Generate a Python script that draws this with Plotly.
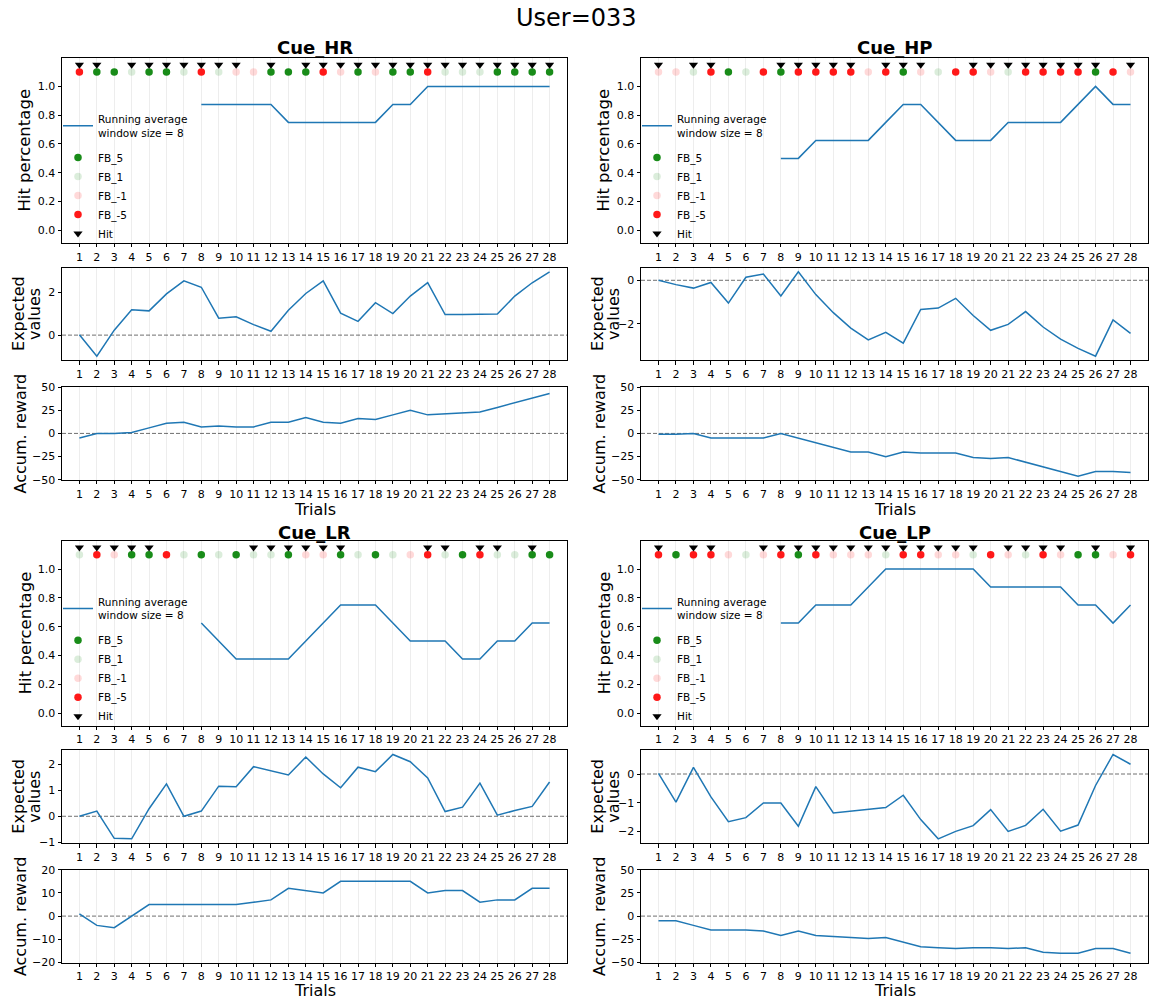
import plotly.graph_objects as go

# ---------------- data ----------------
trials = list(range(1, 29))
cues = ["Cue_HR", "Cue_HP", "Cue_LR", "Cue_LP"]
fb_levels = [5, 1, -1, -5]
fb_names = ["FB_5", "FB_1", "FB_-1", "FB_-5"]

fb_HR = [-5, 5, 5, 1, 5, 5, 1, -5, 1, -1, -1, 5, 5, 5, -5, -1, 5, -1, 5, 5, -5, 1, 1, 1, 5, 5, 5, 5]
hit_HR = [1, 1, 0, 1, 1, 1, 1, 1, 1, 1, 0, 1, 0, 1, 1, 1, 1, 1, 1, 1, 1, 1, 1, 1, 1, 1, 1, 1]
runavg_HR = [None] * 7 + [0.875, 0.875, 0.875, 0.875, 0.875, 0.75, 0.75, 0.75, 0.75, 0.75, 0.75,
                          0.875, 0.875, 1, 1, 1, 1, 1, 1, 1, 1]
ev_HR = [0.02, -0.98, 0.23, 1.18, 1.13, 1.92, 2.53, 2.23, 0.79, 0.85, 0.49, 0.18, 1.16, 1.94,
         2.53, 1.02, 0.64, 1.51, 1.0, 1.82, 2.44, 0.96, 0.96, 0.97, 0.98, 1.82, 2.44, 2.95]
acc_HR = [-5, 0, 0, 1, 6, 11, 12, 7, 8, 7, 7, 12, 12, 17, 12, 11, 16, 15, 20, 25, 20, 21, 22, 23,
          28, 33, 38, 43]

fb_HP = [-1, -1, 1, -5, 5, 1, -5, 5, -5, -5, -5, -5, -1, -5, 5, -1, 1, -5, -5, -1, 1, -5, -5, -5,
         -5, 5, -5, -1]
hit_HP = [1, 0, 1, 1, 0, 0, 0, 1, 1, 1, 1, 1, 0, 1, 1, 1, 0, 0, 1, 1, 1, 1, 1, 1, 1, 1, 0, 1]
runavg_HP = [None] * 7 + [0.5, 0.5, 0.625, 0.625, 0.625, 0.625, 0.75, 0.875, 0.875, 0.75, 0.625,
                          0.625, 0.625, 0.75, 0.75, 0.75, 0.75, 0.875, 1, 0.875, 0.875]
ev_HP = [0, -0.2, -0.36, -0.1, -1.05, 0.14, 0.29, -0.72, 0.39, -0.66, -1.49, -2.2, -2.74, -2.39,
         -2.89, -1.34, -1.28, -0.83, -1.62, -2.3, -2.03, -1.44, -2.15, -2.71, -3.13, -3.49, -1.82,
         -2.44]
acc_HP = [-1, -1, 0, -5, -5, -5, -5, 0, -5, -10, -15, -20, -20, -25, -20, -21, -21, -21, -26,
          -27, -26, -31, -36, -41, -46, -41, -41, -42]

fb_LR = [1, -5, -1, 5, 5, -5, 1, 5, 1, 5, 1, 1, 5, -1, -1, 5, 1, 5, 1, -1, -5, 1, 5, -5, 1, 1, 5, 5]
hit_LR = [1, 1, 1, 1, 1, 0, 0, 0, 0, 0, 1, 1, 1, 1, 1, 1, 0, 0, 0, 0, 1, 1, 0, 1, 1, 0, 1, 0]
runavg_LR = [None] * 7 + [0.625, 0.5, 0.375, 0.375, 0.375, 0.375, 0.5, 0.625, 0.75, 0.75, 0.75,
                          0.625, 0.5, 0.5, 0.5, 0.375, 0.375, 0.5, 0.5, 0.625, 0.625]
ev_LR = [0, 0.2, -0.85, -0.87, 0.29, 1.25, 0, 0.2, 1.16, 1.14, 1.91, 1.75, 1.59, 2.28, 1.63, 1.1,
         1.89, 1.72, 2.38, 2.1, 1.48, 0.18, 0.35, 1.28, 0.04, 0.22, 0.38, 1.32]
acc_LR = [1, -4, -5, 0, 5, 5, 5, 5, 5, 5, 6, 7, 12, 11, 10, 15, 15, 15, 15, 15, 10, 11, 11, 6, 7,
          7, 12, 12]

fb_LP = [-5, 5, -5, -5, -1, 1, -1, -5, 5, -5, -1, -1, -1, 1, -5, -5, -1, -1, 1, -5, -1, 1, -5,
         -1, 5, 5, -1, -5]
hit_LP = [1, 0, 1, 1, 0, 0, 1, 1, 1, 1, 1, 1, 1, 1, 1, 1, 1, 1, 1, 0, 1, 1, 1, 1, 0, 1, 0, 1]
runavg_LP = [None] * 7 + [0.625, 0.625, 0.75, 0.75, 0.75, 0.875, 1, 1, 1, 1, 1, 1, 0.875, 0.875,
                          0.875, 0.875, 0.875, 0.75, 0.75, 0.625, 0.75]
ev_LP = [0.02, -0.98, 0.23, -0.8, -1.66, -1.52, -1.01, -1.01, -1.82, -0.44, -1.36, -1.29, -1.22,
         -1.17, -0.74, -1.59, -2.26, -2.0, -1.8, -1.24, -2.0, -1.79, -1.23, -1.99, -1.78, -0.4,
         0.68, 0.34]
acc_LP = [-5, -5, -10, -15, -15, -15, -16, -21, -16, -21, -22, -23, -24, -23, -28, -33, -34, -35,
          -34, -34, -35, -34, -39, -40, -40, -35, -35, -40]

fbs = [fb_HR, fb_HP, fb_LR, fb_LP]
hits = [hit_HR, hit_HP, hit_LR, hit_LP]
runavgs = [runavg_HR, runavg_HP, runavg_LR, runavg_LP]
evs = [ev_HR, ev_HP, ev_LR, ev_LP]
accs = [acc_HR, acc_HP, acc_LR, acc_LP]
acc_limits = [50, 50, 20, 50]
ev_dticks = [2, 2, 1, 1]

# ---------------- style / layout ----------------
W, H = 1152, 1008
FONT = "DejaVu Sans"
LINE_C = "#1f77b4"
fb_colors = ["rgba(0,128,0,0.9)", "rgba(0,128,0,0.14)", "rgba(255,0,0,0.15)", "rgba(255,0,0,0.9)"]
col_px = [(62, 567), (641, 1148)]
group_top = [53, 542]
trials_label_bottom = [520.5, 1008]
title_center = [42, 533.5]
sub_off = [(0, 187), (212, 306), (333, 427)]
panel_pos = [(0, 0), (1, 0), (0, 1), (1, 1)]


def xd(a, b):
    return [a / W, b / W]


def yd(top, bot):
    return [1 - bot / H, 1 - top / H]


def label(text, xpx, ypx, size, angle=0, yanchor="middle"):
    return dict(
        text=text, x=xpx / W, y=1 - ypx / H, xref="paper", yref="paper",
        xanchor="center", yanchor=yanchor, textangle=angle, showarrow=False,
        borderpad=0, font=dict(size=size, family=FONT, color="black"),
    )


fig = go.Figure()
layout = dict(
    width=W, height=H, margin=dict(l=0, r=0, t=0, b=0),
    paper_bgcolor="white", plot_bgcolor="white",
    font=dict(family=FONT, size=11, color="black"),
    showlegend=True,
)
annotations = []
shapes = []

for p in range(4):
    ci, gi = panel_pos[p]
    x0, x1 = col_px[ci]
    base = group_top[gi]
    for r in range(3):
        k = p * 3 + r + 1
        xs = "" if k == 1 else str(k)
        top, bot = base + sub_off[r][0], base + sub_off[r][1]
        ymid = (top + bot) / 2
        layout["xaxis" + xs] = dict(
            domain=xd(x0, x1), anchor="y" + xs, range=[0, 29],
            tickmode="array", tickvals=trials, ticktext=[str(t) for t in trials],
            showgrid=True, gridcolor="rgba(0,0,0,0.07)", gridwidth=1,
            showline=True, mirror=True, linecolor="black", linewidth=1,
            ticks="outside", ticklen=3.5, tickcolor="black", tickfont=dict(size=11),
            zeroline=False, fixedrange=True,
        )
        ya = dict(
            domain=yd(top, bot), anchor="x" + xs,
            showgrid=False, showline=True, mirror=True, linecolor="black", linewidth=1,
            ticks="outside", ticklen=3.5, tickcolor="black", tickfont=dict(size=11),
            zeroline=False, fixedrange=True,
        )
        if r == 0:
            ya.update(range=[-0.087, 1.195], tickmode="array",
                      tickvals=[0, 0.2, 0.4, 0.6, 0.8, 1.0],
                      ticktext=["0.0", "0.2", "0.4", "0.6", "0.8", "1.0"])
            annotations.append(label("Hit percentage", x0 - 37, ymid, 16.5, -90))
        elif r == 1:
            lo, hi = min(evs[p]), max(evs[p])
            pad = 0.05 * (hi - lo)
            ya.update(range=[lo - pad, hi + pad], dtick=ev_dticks[p], tick0=0)
            annotations.append(label("Expected", x0 - 43, ymid, 16, -90))
            annotations.append(label("values", x0 - 27, ymid, 16, -90))
        else:
            lim = acc_limits[p]
            ya.update(range=[-lim, lim], dtick=lim / 2, tick0=0)
            annotations.append(label("Accum. reward", x0 - 42, ymid, 16, -90))
        layout["yaxis" + xs] = ya
        if r > 0:
            shapes.append(dict(
                type="line", xref="x" + xs + " domain", yref="y" + xs,
                x0=0, x1=1, y0=0, y1=0,
                line=dict(color="#707070", width=1, dash="4px,2px"), layer="below",
            ))

    # panel title and x label
    annotations.append(label("<b>" + cues[p] + "</b>", (x0 + x1) / 2, title_center[gi], 18))
    annotations.append(label("Trials", (x0 + x1) / 2, trials_label_bottom[gi], 16,
                             yanchor="bottom"))

    # legend for this panel
    lname = "legend" if p == 0 else "legend" + str(p + 1)
    layout[lname] = dict(
        x=(x0 - 4) / W, y=1 - (base + 48) / H, xanchor="left", yanchor="top",
        bgcolor="rgba(0,0,0,0)", borderwidth=0, font=dict(size=10.5, family=FONT),
        tracegroupgap=7, traceorder="grouped", itemwidth=30,
    )

    kx = "x" + ("" if p * 3 + 1 == 1 else str(p * 3 + 1))
    ky = "y" + ("" if p * 3 + 1 == 1 else str(p * 3 + 1))
    # running average
    fig.add_trace(go.Scatter(
        x=trials, y=runavgs[p], mode="lines", line=dict(color=LINE_C, width=1.5),
        name="Running average<br>window size = 8", xaxis=kx, yaxis=ky,
        legend=lname, legendgroup="ra%d" % p,
    ))
    for lev, nm, colr in zip(fb_levels, fb_names, fb_colors):
        xs_ = [t for t, f in zip(trials, fbs[p]) if f == lev]
        fig.add_trace(go.Scatter(
            x=xs_, y=[1.1] * len(xs_), mode="markers",
            marker=dict(color=colr, size=7.5, symbol="circle", line=dict(width=0)),
            name=nm, xaxis=kx, yaxis=ky, legend=lname, legendgroup="m%d" % p,
        ))
    hx = [t for t, h in zip(trials, hits[p]) if h == 1]
    fig.add_trace(go.Scatter(
        x=hx, y=[1.15] * len(hx), mode="markers",
        marker=dict(color="black", size=8, symbol="triangle-down", line=dict(width=0)),
        name="Hit", xaxis=kx, yaxis=ky, legend=lname, legendgroup="m%d" % p,
    ))

    # expected values
    kx2 = "x" + str(p * 3 + 2)
    ky2 = "y" + str(p * 3 + 2)
    fig.add_trace(go.Scatter(
        x=trials, y=evs[p], mode="lines", line=dict(color=LINE_C, width=1.5),
        xaxis=kx2, yaxis=ky2, showlegend=False, name="Expected values",
    ))
    # accumulated reward
    kx3 = "x" + str(p * 3 + 3)
    ky3 = "y" + str(p * 3 + 3)
    fig.add_trace(go.Scatter(
        x=trials, y=accs[p], mode="lines", line=dict(color=LINE_C, width=1.5),
        xaxis=kx3, yaxis=ky3, showlegend=False, name="Accum. reward",
    ))

annotations.append(label("User=033", W / 2, 12, 24))
layout["annotations"] = annotations
layout["shapes"] = shapes
fig.update_layout(**layout)
fig.write_html("out.html")
